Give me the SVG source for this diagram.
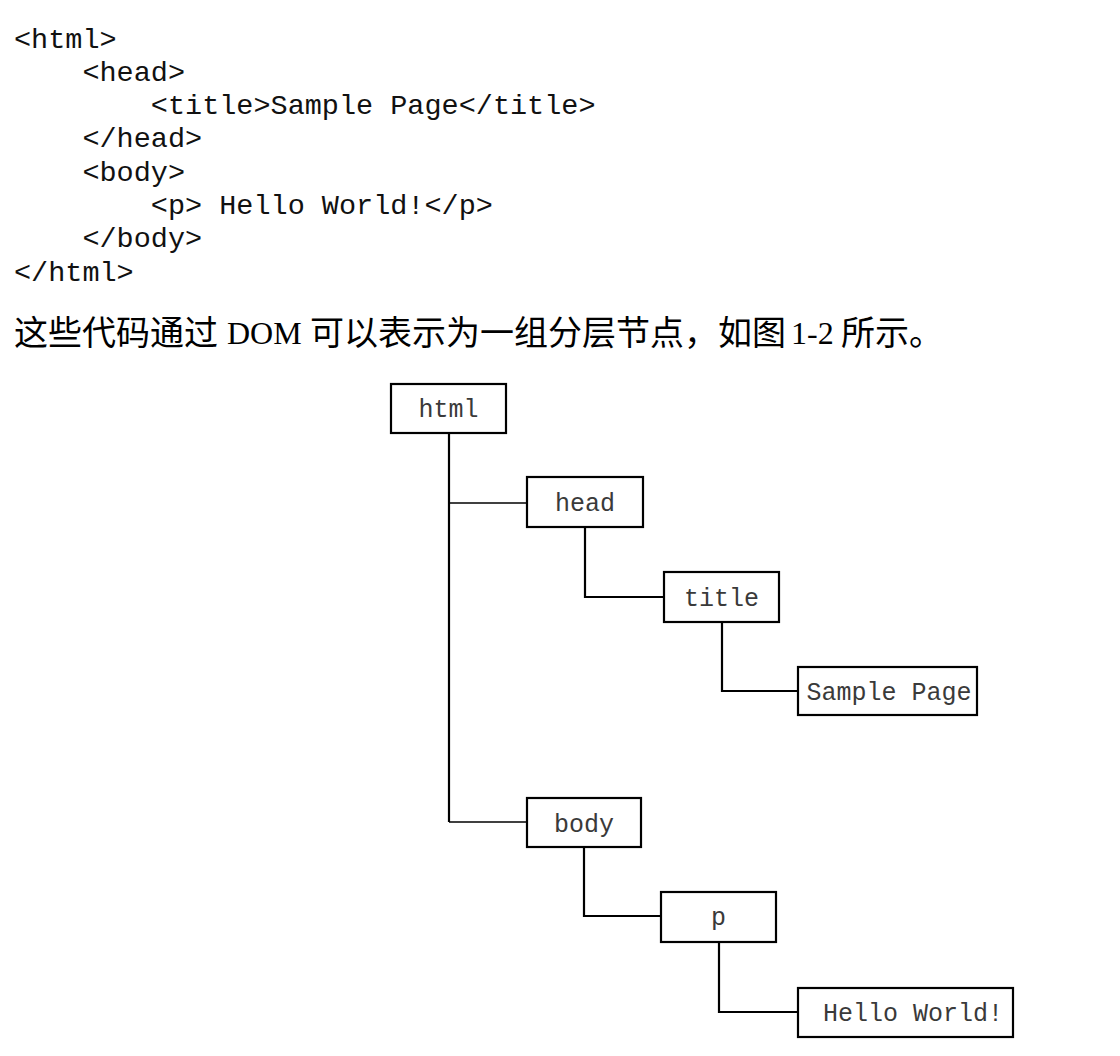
<svg xmlns="http://www.w3.org/2000/svg" width="1120" height="1056" viewBox="0 0 1120 1056">
<style>
.code{font-family:"Liberation Mono","Courier New",monospace;font-size:28.5px;fill:#111;white-space:pre}
.cn{font-family:"Noto Sans CJK SC",sans-serif;font-size:34px;fill:#000}
.lat{font-family:"Liberation Serif","Times New Roman",serif;font-size:32px;fill:#000}
.box{fill:#fff;stroke:#000;stroke-width:2.2}
.lbl{font-family:"Liberation Mono","Courier New",monospace;font-size:25px;fill:#3a3a3a;text-anchor:middle}
.con{fill:none;stroke:#000;stroke-width:2.2}
.thin{fill:none;stroke:#000;stroke-width:1.6}
</style>
<rect width="1120" height="1056" fill="#fff"/>
<g id="code">
<text class="code" x="14" y="47.5">&lt;html&gt;</text>
<text class="code" x="14" y="80.8" xml:space="preserve">    &lt;head&gt;</text>
<text class="code" x="14" y="114.1" xml:space="preserve">        &lt;title&gt;Sample Page&lt;/title&gt;</text>
<text class="code" x="14" y="147.4" xml:space="preserve">    &lt;/head&gt;</text>
<text class="code" x="14" y="180.7" xml:space="preserve">    &lt;body&gt;</text>
<text class="code" x="14" y="214" xml:space="preserve">        &lt;p&gt; Hello World!&lt;/p&gt;</text>
<text class="code" x="14" y="247.3" xml:space="preserve">    &lt;/body&gt;</text>
<text class="code" x="14" y="280.6">&lt;/html&gt;</text>
</g>
<g id="caption">
<text class="cn" x="14" y="345">这些代码通过</text>
<text class="lat" x="227" y="344">DOM</text>
<text class="cn" x="310" y="345">可以表示为一组分层节点，如图</text>
<text class="lat" x="791" y="344">1-2</text>
<text class="cn" x="841" y="345">所示。</text>
</g>
<g id="connectors">
<path class="con" d="M449 433 V822"/>
<path class="thin" d="M449 503 H527"/>
<path class="thin" d="M449 822 H527"/>
<path class="con" d="M585 527 V597 H664"/>
<path class="con" d="M722 622 V691 H798"/>
<path class="con" d="M584 847 V916 H661"/>
<path class="con" d="M719 942 V1012 H798"/>
</g>
<g id="node-html"><rect class="box" x="391" y="384" width="115" height="49"/><text class="lbl" x="448.5" y="417">html</text></g>
<g id="node-head"><rect class="box" x="527" y="477" width="116" height="50"/><text class="lbl" x="585" y="511">head</text></g>
<g id="node-title"><rect class="box" x="664" y="572" width="115" height="50"/><text class="lbl" x="721.5" y="606">title</text></g>
<g id="node-sample"><rect class="box" x="798" y="667" width="179" height="48"/><text class="lbl" x="889" y="700">Sample Page</text></g>
<g id="node-body"><rect class="box" x="527" y="798" width="114" height="49"/><text class="lbl" x="584" y="832">body</text></g>
<g id="node-p"><rect class="box" x="661" y="892" width="115" height="50"/><text class="lbl" x="718.5" y="925">p</text></g>
<g id="node-hello"><rect class="box" x="798" y="988" width="215" height="49"/><text class="lbl" x="913" y="1021">Hello World!</text></g>
</svg>
